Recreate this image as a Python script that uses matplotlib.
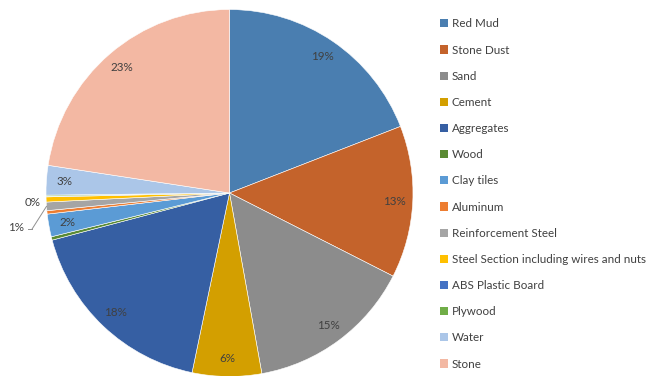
import numpy as np
import matplotlib.pyplot as plt
from matplotlib.patches import Patch

materials = ['Red Mud', 'Stone Dust', 'Sand', 'Cement', 'Aggregates', 'Wood',
             'Clay tiles', 'Aluminum', 'Reinforcement Steel',
             'Steel Section including wires and nuts', 'ABS Plastic Board',
             'Plywood', 'Water', 'Stone']
share = [19.1, 13.4, 14.7, 6.1, 17.6, 0.3, 2.0, 0.3, 0.75, 0.45, 0.05, 0.1, 2.6, 22.6]
colors = ['#4a7eb0', '#c4632b', '#8c8c8c', '#d39f00', '#365fa3', '#5a8a33',
          '#5b9bd5', '#ed7d31', '#a5a5a5', '#ffc000', '#4472c4', '#70ad47',
          '#abc6e8', '#f3b8a3']
# slices that carry a percent label inside the pie
inside = ['Red Mud', 'Stone Dust', 'Sand', 'Cement', 'Aggregates', 'Clay tiles', 'Water', 'Stone']

plt.rcParams['font.family'] = ['Lato', 'DejaVu Sans']
txt_color = '#404040'
fs = 8.4

fig = plt.figure(figsize=(6.47, 3.76), dpi=100)
ax = fig.add_axes([0.0711, -0.0013, 0.5672, 0.976])

wedges, _ = ax.pie(share, colors=colors, startangle=90, counterclock=False,
                   radius=1, wedgeprops=dict(edgecolor='white', linewidth=0.4))

total = sum(share)
for w, name, v in zip(wedges, materials, share):
    if name not in inside:
        continue
    mid = np.deg2rad((w.theta1 + w.theta2) / 2)
    ax.text(0.9 * np.cos(mid), 0.9 * np.sin(mid), f'{round(v / total * 100):.0f}%',
            ha='center', va='center', fontsize=fs, color=txt_color)

# outside labels for the thin steel slices
i_reinf = materials.index('Reinforcement Steel')
i_steel = materials.index('Steel Section including wires and nuts')
w = wedges[i_reinf]
mid = np.deg2rad((w.theta1 + w.theta2) / 2)
ax.plot([np.cos(mid), -1.075], [np.sin(mid), -0.195], color='#909090', lw=0.7, clip_on=False)
ax.plot([-1.075, -1.10], [-0.195, -0.195], color='#909090', lw=0.7, clip_on=False)
ax.text(-1.12, -0.19, f'{round(share[i_reinf] / total * 100):.0f}%', ha='right', va='center',
        fontsize=fs, color=txt_color)
ax.text(-1.03, -0.05, f'{round(share[i_steel] / total * 100):.0f}%', ha='right', va='center',
        fontsize=fs, color=txt_color)

ax.set_xlim(-1, 1)
ax.set_ylim(-1, 1)
ax.set_aspect('equal')
ax.axis('off')

handles = [Patch(facecolor=c, edgecolor='none') for c in colors]
fig.legend(handles, materials, loc='upper left', bbox_to_anchor=(0.664, 0.979),
           frameon=False, fontsize=fs, handlelength=0.7, handleheight=0.7,
           handletextpad=0.3, labelspacing=1.3, labelcolor=txt_color)

fig.savefig('out.png', dpi=100)
